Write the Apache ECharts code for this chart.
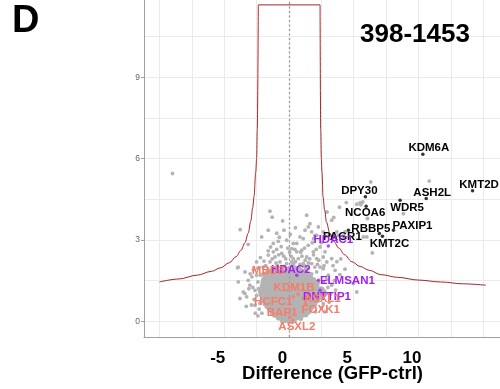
<!DOCTYPE html>
<html><head><meta charset="utf-8">
<script src="https://cdn.jsdelivr.net/npm/echarts@6/dist/echarts.min.js"></script>
<style>html,body{margin:0;padding:0;background:#fff}#c{width:500px;height:389px}</style>
</head><body><div id="c"></div>
<script>
// ---------- text ----------
const panelLabel = 'D';
const chartTitle = '398-1453';
const xAxisTitle = 'Difference (GFP-ctrl)';
// ---------- ticks ----------
const xTickLabels = [-5, 0, 5, 10];
const yTickLabels = [0, 3, 6, 9];
const xGridValues = [-10, -7.5, -5, -2.5, 0, 2.5, 5, 7.5, 10, 12.5, 15];
const yGridValues = [0, 1.5, 3, 4.5, 6, 7.5, 9, 10.5];
const xRange = [-11.2, 16.3];
const yRange = [-0.58, 11.85];
// ---------- significance threshold curve ----------
const thresholdLeft = [[-10.0,1.45],[-8.5,1.56],[-7.1,1.70],[-6.0,1.84],[-5.3,1.97],[-4.6,2.16],[-4.1,2.38],[-3.7,2.62],[-3.4,2.9],[-3.15,3.25],[-2.95,3.7],[-2.8,4.2],[-2.7,4.6],[-2.57,5.5],[-2.5,6.0],[-2.45,7.05],[-2.37,11.67]];
const thresholdTop = [[-2.37,11.67],[2.40,11.67]];
const thresholdRight = [[2.40,11.67],[2.45,7.05],[2.5,6.0],[2.55,5.5],[2.63,4.6],[2.75,4.1],[2.9,3.65],[3.15,3.25],[3.45,2.95],[3.85,2.7],[4.3,2.45],[4.85,2.2],[5.5,2.02],[6.2,1.88],[7.1,1.72],[8.4,1.62],[10,1.52],[11.7,1.45],[13.5,1.38],[15.2,1.33]];
// ---------- all other proteins: dense core (diff, -log p) ----------
const coreProteins = [
[-0.5,0.02],[-0.2,0.03],[0.1,0.01],[0.4,0.03],
[-0.8,0.12],[-0.45,0.13],[-0.1,0.11],[0.25,0.12],[0.6,0.13],[0.9,0.11],
[-1.1,0.22],[-0.75,0.23],[-0.4,0.21],[-0.05,0.22],[0.3,0.23],[0.65,0.21],[1.0,0.22],[1.3,0.24],
[-1.3,0.33],[-0.95,0.32],[-0.6,0.34],[-0.25,0.33],[0.1,0.32],[0.45,0.34],[0.8,0.33],[1.15,0.32],[1.5,0.34],
[-1.5,0.44],[-1.15,0.45],[-0.8,0.43],[-0.45,0.44],[-0.1,0.45],[0.25,0.43],[0.6,0.44],[0.95,0.45],[1.3,0.43],[1.65,0.44],
[-1.7,0.55],[-1.35,0.54],[-1.0,0.56],[-0.65,0.55],[-0.3,0.54],[0.05,0.56],[0.4,0.55],[0.75,0.54],[1.1,0.56],[1.45,0.55],[1.8,0.54],
[-1.85,0.66],[-1.5,0.67],[-1.15,0.65],[-0.8,0.66],[-0.45,0.67],[-0.1,0.65],[0.25,0.66],[0.6,0.67],[0.95,0.65],[1.3,0.66],[1.65,0.67],[2.0,0.65],
[-1.95,0.77],[-1.6,0.76],[-1.25,0.78],[-0.9,0.77],[-0.55,0.76],[-0.2,0.78],[0.15,0.77],[0.5,0.76],[0.85,0.78],[1.2,0.77],[1.55,0.76],[1.9,0.78],[2.2,0.77],
[-2.05,0.88],[-1.7,0.89],[-1.35,0.87],[-1.0,0.88],[-0.65,0.89],[-0.3,0.87],[0.05,0.88],[0.4,0.89],[0.75,0.87],[1.1,0.88],[1.45,0.89],[1.8,0.87],[2.15,0.88],[2.45,0.89],
[-2.15,0.99],[-1.8,0.98],[-1.45,1.0],[-1.1,0.99],[-0.75,0.98],[-0.4,1.0],[-0.05,0.99],[0.3,0.98],[0.65,1.0],[1.0,0.99],[1.35,0.98],[1.7,1.0],[2.05,0.99],[2.4,0.98],[2.7,1.0],
[-2.2,1.10],[-1.85,1.11],[-1.5,1.09],[-1.15,1.10],[-0.8,1.11],[-0.45,1.09],[-0.1,1.10],[0.25,1.11],[0.6,1.09],[0.95,1.10],[1.3,1.11],[1.65,1.09],[2.0,1.10],[2.35,1.11],[2.7,1.09],
[-2.1,1.21],[-1.75,1.20],[-1.4,1.22],[-1.05,1.21],[-0.7,1.20],[-0.35,1.22],[0.0,1.21],[0.35,1.20],[0.7,1.22],[1.05,1.21],[1.4,1.20],[1.75,1.22],[2.1,1.21],[2.45,1.20],
[-2.05,1.32],[-1.7,1.33],[-1.35,1.31],[-1.0,1.32],[-0.65,1.33],[-0.3,1.31],[0.05,1.32],[0.4,1.33],[0.75,1.31],[1.1,1.32],[1.45,1.33],[1.8,1.31],[2.15,1.32],
[-2.0,1.43],[-1.65,1.42],[-1.3,1.44],[-0.95,1.43],[-0.6,1.42],[-0.25,1.44],[0.1,1.43],[0.45,1.42],[0.8,1.44],[1.15,1.43],[1.5,1.42],[1.85,1.44],[2.2,1.43],
[-1.95,1.54],[-1.6,1.55],[-1.25,1.53],[-0.9,1.54],[-0.55,1.55],[-0.2,1.53],[0.15,1.54],[0.5,1.55],[0.85,1.53],[1.2,1.54],[1.55,1.55],[1.9,1.53],
[-1.85,1.65],[-1.5,1.64],[-1.15,1.66],[-0.8,1.65],[-0.45,1.64],[-0.1,1.66],[0.25,1.65],[0.6,1.64],[0.95,1.66],[1.3,1.65],[1.65,1.64],
[-1.75,1.76],[-1.4,1.77],[-1.05,1.75],[-0.7,1.76],[-0.35,1.77],[0.0,1.75],[0.35,1.76],[0.7,1.77],[1.05,1.75],[1.4,1.76],
[-1.6,1.87],[-1.2,1.88],[-0.85,1.86],[-0.5,1.87],[-0.15,1.88],[0.2,1.86],[0.55,1.87],[0.9,1.88],[1.25,1.86]
];
// ---------- all other proteins: sparse halo and outliers ----------
const sparseProteins = [
[-9.0,5.45],[6.32,5.14],[10.83,5.17],
[4.43,4.38],[5.24,4.32],[5.49,4.37],[5.7,4.4],[5.55,4.3],
[3.9,4.21],[2.94,4.03],[-1.47,4.06],[-1.3,3.84],[1.37,3.91],[3.46,3.83],[8.84,3.97],[6.06,3.79],
[-3.77,3.38],[-3.15,2.84],[-0.49,3.7],[1.62,3.6],[2.27,3.48],[3.3,3.73],[-2.11,3.11],[-1.21,2.87],[0.85,3.11],[1.24,3.36],[1.75,3.3],[2.14,3.17],[2.65,3.3],[3.17,3.17],[3.69,3.3],[4.2,3.14],[5.75,3.11],[6.44,2.52],[-0.18,2.99],[0.33,2.87],[-1.21,2.56],
[-1.6,3.36],[-0.39,3.36],[-1.42,2.74],[-0.83,2.95],[-0.95,2.65],[-3.97,1.97],[-1.6,2.44],[-1.08,2.37],[-0.56,2.5],[-1.93,2.22],[-1.47,2.19],[0.21,2.68],[0.6,2.56],[0.33,2.31],[-0.18,2.13],[-0.7,2.19],[0.28,2.07],
[1.49,3.48],[2.01,3.17],[1.1,3.05],[0.6,2.87],[1.49,2.8],[0.98,2.62],[1.88,2.56],[2.4,2.74],[2.78,2.56],[1.37,2.37],[0.72,2.31],[2.14,2.31],[2.65,2.37],[0.21,2.19],[1.1,2.13],[1.75,2.13],[2.92,2.19],[3.3,2.31],[0.46,2.0],[1.49,1.94],[2.4,2.0],[3.81,3.17],[4.33,3.3],[6.01,3.11],
[2.14,1.82],[2.65,1.94],[3.04,1.7],[3.56,1.88],[3.94,1.72],[4.33,1.92],[2.65,1.45],[3.3,1.33],[2.4,1.14],[2.92,1.02],[2.01,0.77],[1.62,0.59],[2.65,0.65],
[-3.4,1.82],[-3.92,1.45],[-3.02,1.33],[-3.79,0.84],[-3.27,0.9],[-2.63,1.14],[-3.53,1.08],[-2.86,1.64],[-2.4,1.96],[-2.63,0.59],[-2.09,0.3],[-2.24,0.66],
[-3.92,2.0],[-3.4,1.02],[-3.15,1.51],[-2.5,2.19],[4.97,1.39],[5.24,1.08],
[-0.4,2.4],[0.05,2.55],[-0.9,2.05],[-1.2,1.98],[0.85,2.1],[1.25,2.25],[1.9,2.45],[2.2,2.1],[0.0,1.98],[-0.35,2.02],[0.6,1.95],[1.0,2.4],[-0.6,2.75],[1.8,2.9],[2.5,2.9],[1.3,1.98],[1.75,1.75],[2.0,2.0],[2.9,1.55],[2.6,1.2],[2.3,0.9],[3.0,1.25],[2.5,0.5],[2.05,0.35],[-2.5,0.95],[-2.4,1.45],[-2.5,1.7],[-2.3,0.45],[-2.6,0.3],
[-2.2,2.35],[-1.8,2.05],[-1.3,2.3],[-0.8,2.45],[-0.25,2.3],[0.15,2.4],[0.5,2.2],[0.9,2.55],[1.2,2.05],[1.6,2.3],[2.3,2.25],[2.7,2.05],[-1.0,2.15],[-0.5,1.98],[0.35,2.12],[0.8,1.98],[1.5,2.15],[-2.0,2.0],[-1.6,2.6],[-0.1,2.7],[0.45,2.65],[1.2,2.7],[2.1,2.65],[-0.75,3.1],[0.1,3.2],[0.5,3.45],[-0.95,3.25],[1.9,3.05],
[-2.8,1.25],[-2.7,0.8],[-2.9,0.6],[-3.1,1.2],[-2.75,1.9],[-3.0,1.75],[-2.4,0.2],[-3.3,0.55],[-2.2,1.7],[-2.35,1.2],
[3.2,1.0],[3.5,1.5],[3.1,0.7],[2.8,0.35],[3.4,2.05],[3.7,2.2],[4.0,2.3],[3.6,1.15]
];
// ---------- highlighted proteins ----------
const geneNames = ['KDM6A','KMT2D','ASH2L','DPY30','WDR5','NCOA6','PAXIP1','RBBP5','KMT2C','PAGR1','HDAC1','HDAC2','ELMSAN1','DNTTIP1','MBD3','KDM1B','ASXL1','HCFC1','FOXK1','BAP1','ASXL2'];
const geneDiff  = [10.34,14.18,10.6,5.9,8.58,5.96,8.07,6.98,7.22,4.59,3.04,0.6,2.27,2.4,-2.0,0.7,1.1,0.33,1.29,0.05,0.3];
const geneLogP  = [6.16,4.81,4.53,4.59,4.46,4.24,3.36,3.24,3.14,3.36,2.78,1.7,1.51,1.14,1.75,1.0,0.85,0.9,0.65,0.15,0.03];
const geneGroup = ['MLL','MLL','MLL','MLL','MLL','MLL','MLL','MLL','MLL','MLL','HDAC','HDAC','HDAC','HDAC','PRC','PRC','PRC','PRC','PRC','PRC','PRC'];

// ---------- styling / layout (not data) ----------
const groupColor = {MLL:'#000000', HDAC:'#A020F0', PRC:'#FA7A66'};
const labelOffset = {
  KDM6A:[6,-6], KMT2D:[6.5,-6], ASH2L:[6,-6], DPY30:[-6,-6], WDR5:[7,7], NCOA6:[-1,6.5],
  PAXIP1:[19,-4.5], RBBP5:[-8.5,-5], KMT2C:[7,7.5], PAGR1:[-6,7], HDAC1:[5,-6], HDAC2:[-6,-5],
  ELMSAN1:[29,0], DNTTIP1:[7,6], MBD3:[5,-3.5], KDM1B:[-4,-6.5], ASXL1:[19,0.3], HCFC1:[-20,5],
  FOXK1:[15,6.5], BAP1:[-7.5,-4.5], ASXL2:[4,6.5]
};
const FONT = '"Liberation Sans", Arial, Helvetica, sans-serif';

const chart = echarts.init(document.getElementById('c'), null, {renderer:'canvas'});

const geneData = geneNames.map((n,i)=>({
  name:n, value:[geneDiff[i], geneLogP[i]],
  itemStyle:{color:groupColor[geneGroup[i]]},
  label:{color:groupColor[geneGroup[i]], offset:labelOffset[n]}
}));

const curveStyle = {color:'#A3262A', width:1};
function curveSeries(data, smooth){
  return {type:'line', data, smooth:smooth, smoothMonotone:'x', symbol:'none', lineStyle:curveStyle, z:5, silent:true, animation:false, xAxisIndex:0, yAxisIndex:0};
}

chart.setOption({
  animation:false,
  backgroundColor:'#ffffff',
  grid:{left:144, top:0, right:0, bottom:52, containLabel:false},
  xAxis:[{
    type:'value', min:xRange[0], max:xRange[1],
    axisLine:{show:true, onZero:false, lineStyle:{color:'#a0a0a0', width:1}},
    axisTick:{show:false, customValues:xTickLabels},
    splitLine:{show:false},
    axisLabel:{customValues:xTickLabels, color:'#000', fontSize:17, fontWeight:'bold', fontFamily:FONT,
      margin:21, verticalAlign:'middle', padding:[0,13,0,0], formatter:v=>String(v)}
  },{
    type:'value', min:xRange[0], max:xRange[1], position:'bottom',
    axisLine:{show:false}, axisLabel:{show:false},
    axisTick:{show:false, customValues:xGridValues},
    splitLine:{show:true, lineStyle:{color:'#ebebeb', width:1}}
  }],
  yAxis:[{
    type:'value', min:yRange[0], max:yRange[1],
    axisLine:{show:true, onZero:false, lineStyle:{color:'#a0a0a0', width:1}},
    axisTick:{show:true, length:3, customValues:yTickLabels, lineStyle:{color:'#a0a0a0'}},
    splitLine:{show:false},
    axisLabel:{customValues:yTickLabels, color:'#666', fontSize:8.5, fontFamily:FONT, margin:4, formatter:v=>String(v)}
  },{
    type:'value', min:yRange[0], max:yRange[1], position:'left',
    axisLine:{show:false}, axisLabel:{show:false},
    axisTick:{show:false, customValues:yGridValues},
    splitLine:{show:true, lineStyle:{color:'#ebebeb', width:1}}
  }],
  series:[
    {type:'line', data:[], xAxisIndex:0, yAxisIndex:0, z:1, silent:true,
     markLine:{silent:true, symbol:['none','none'], label:{show:false},
       lineStyle:{color:'#9a9a9a', type:[2,2.5], width:1.3},
       data:[{xAxis:0}]}},
    {type:'scatter', data:coreProteins, symbolSize:5.2, itemStyle:{color:'#b3b3b3', opacity:1}, z:2, silent:true},
    {type:'scatter', data:sparseProteins, symbolSize:3.8, itemStyle:{color:'#b3b3b3', opacity:1}, z:2, silent:true},
    curveSeries(thresholdLeft, 0.35),
    curveSeries(thresholdTop, false),
    curveSeries(thresholdRight, 0.35),
    {type:'scatter', data:geneData, symbolSize:3.5, z:8, silent:true,
     label:{show:true, position:'inside', formatter:p=>p.name, fontSize:11.5, fontWeight:'bold', fontFamily:FONT,
       textBorderWidth:0, textBorderColor:'transparent', textShadowBlur:0, opacity:1}}
  ],
  graphic:[
    {type:'text', x:12, y:22, z:20, style:{text:panelLabel, font:'bold 38px '+FONT, fill:'#000', textAlign:'left', textVerticalAlign:'middle'}},
    {type:'text', x:415, y:34.5, z:20, style:{text:chartTitle, font:'bold 26px '+FONT, fill:'#000', textAlign:'center', textVerticalAlign:'middle'}},
    {type:'text', x:332.5, y:374, z:20, style:{text:xAxisTitle, font:'bold 18.5px '+FONT, fill:'#000', textAlign:'center', textVerticalAlign:'middle'}}
  ]
});
</script>
</body></html>
